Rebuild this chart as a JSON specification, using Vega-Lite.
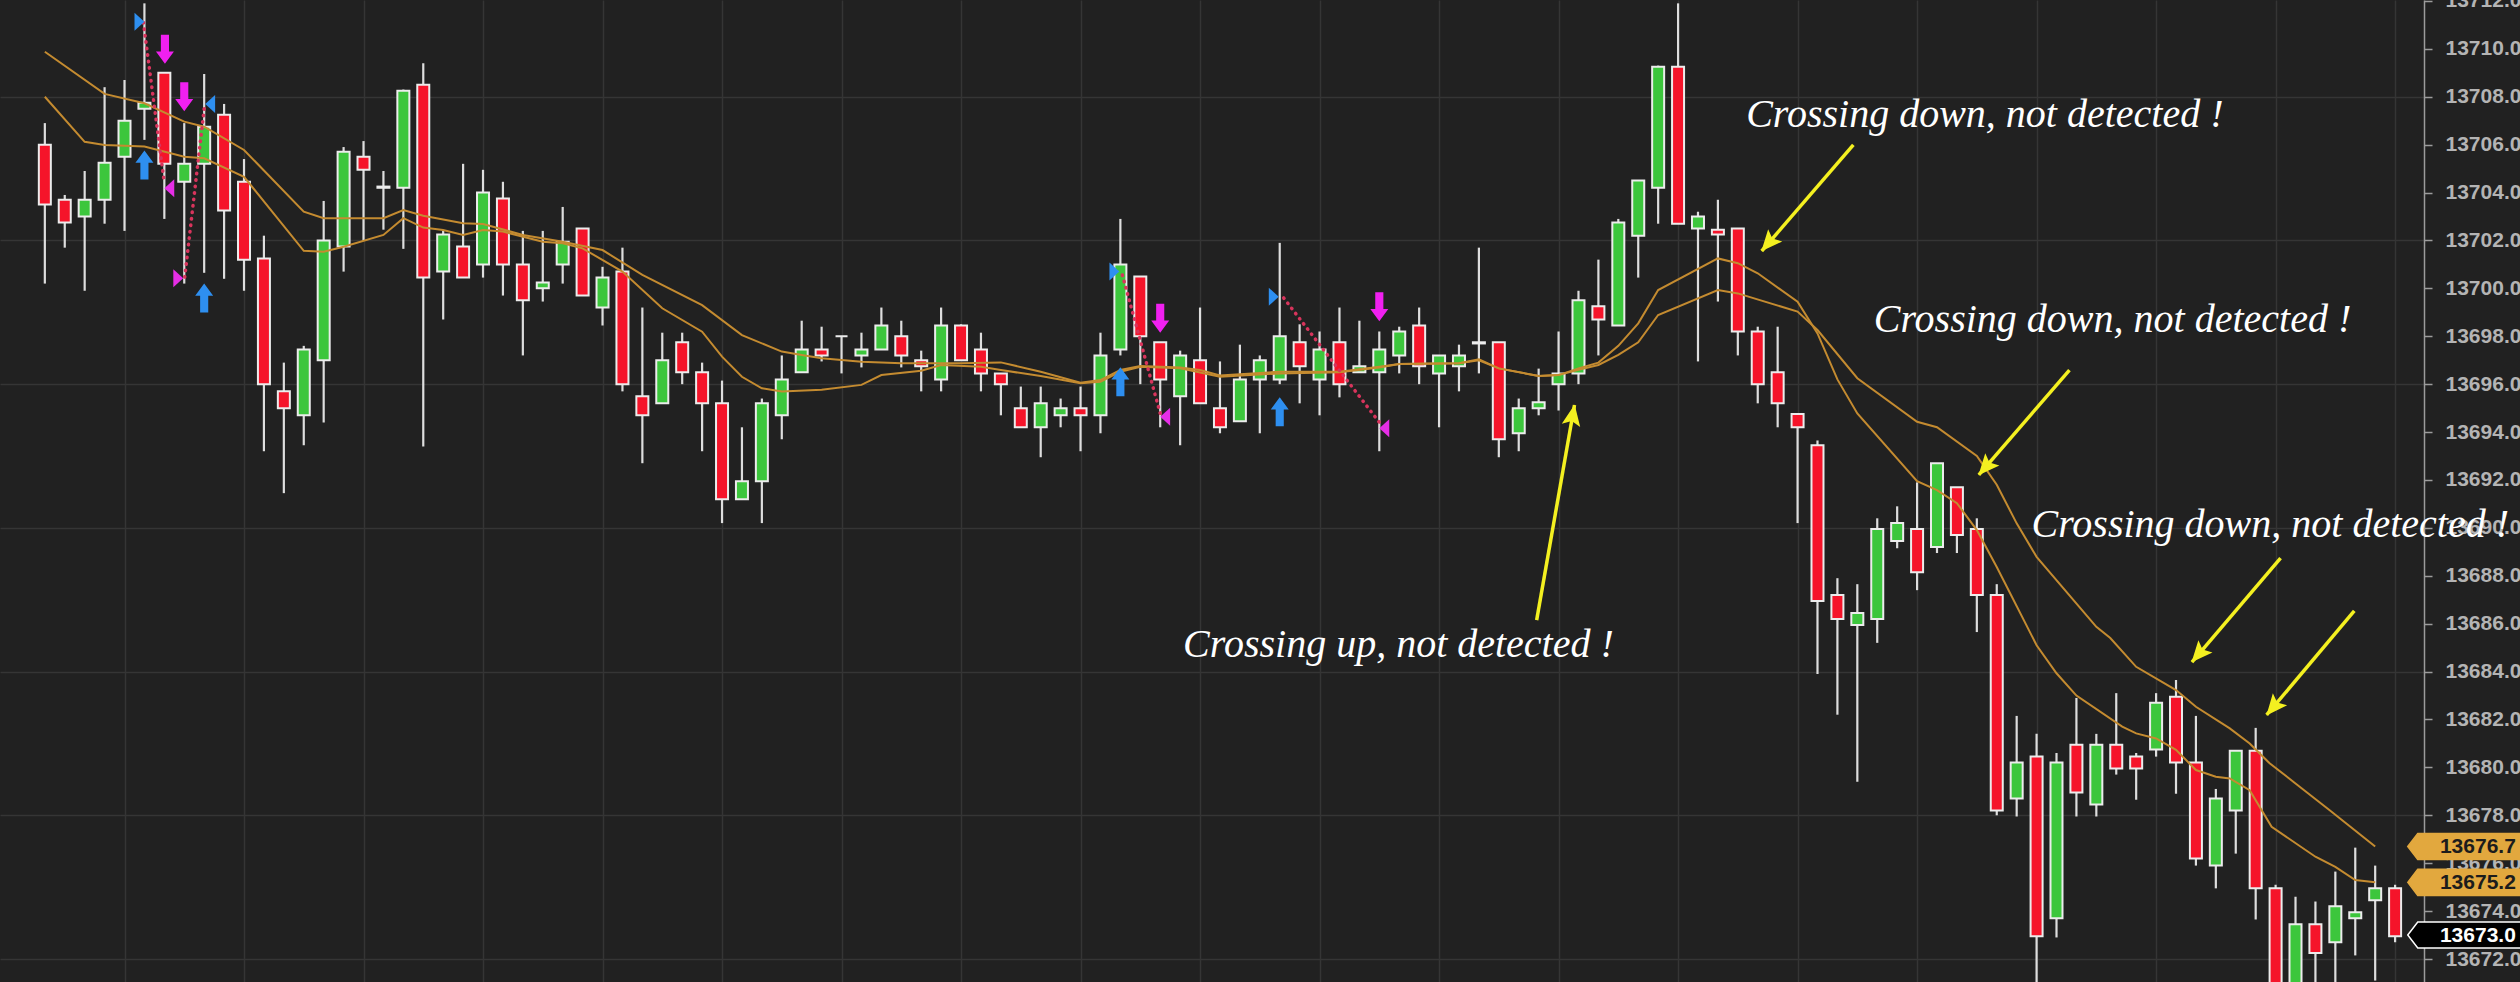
{
  "$schema": "https://vega.github.io/schema/vega-lite/v6.json",
  "width": 2424,
  "height": 982,
  "autosize": {"type": "none"},
  "padding": {"left": 0, "top": 0, "right": 96, "bottom": 0},
  "background": "#212121",
  "config": {"view": {"stroke": null}},
  "datasets": {
    "candles": [
      {"k":2,"o":13706.0,"h":13706.9,"l":13700.2,"c":13703.5},
      {"k":3,"o":13703.7,"h":13703.9,"l":13701.7,"c":13702.75},
      {"k":4,"o":13703.0,"h":13704.9,"l":13699.9,"c":13703.7},
      {"k":5,"o":13703.7,"h":13708.4,"l":13702.7,"c":13705.25},
      {"k":6,"o":13705.5,"h":13708.7,"l":13702.4,"c":13707.0},
      {"k":7,"o":13707.5,"h":13711.9,"l":13706.2,"c":13707.75},
      {"k":8,"o":13709.0,"h":13709.0,"l":13702.9,"c":13705.2},
      {"k":9,"o":13704.45,"h":13706.9,"l":13700.2,"c":13705.2},
      {"k":10,"o":13705.2,"h":13708.95,"l":13700.65,"c":13706.75},
      {"k":11,"o":13707.25,"h":13707.7,"l":13700.4,"c":13703.25},
      {"k":12,"o":13704.45,"h":13705.4,"l":13699.9,"c":13701.2},
      {"k":13,"o":13701.25,"h":13702.2,"l":13693.2,"c":13696.0},
      {"k":14,"o":13695.7,"h":13696.9,"l":13691.45,"c":13695.0},
      {"k":15,"o":13694.7,"h":13697.6,"l":13693.45,"c":13697.45},
      {"k":16,"o":13697.0,"h":13703.65,"l":13694.4,"c":13702.0},
      {"k":17,"o":13701.75,"h":13705.9,"l":13700.7,"c":13705.7},
      {"k":18,"o":13705.5,"h":13706.15,"l":13702.0,"c":13704.95},
      {"k":19,"o":13704.2,"h":13704.9,"l":13702.45,"c":13704.25},
      {"k":20,"o":13704.2,"h":13708.3,"l":13701.65,"c":13708.25},
      {"k":21,"o":13708.5,"h":13709.4,"l":13693.4,"c":13700.45},
      {"k":22,"o":13700.7,"h":13702.4,"l":13698.7,"c":13702.25},
      {"k":23,"o":13701.75,"h":13705.2,"l":13700.45,"c":13700.45},
      {"k":24,"o":13701.0,"h":13704.95,"l":13700.45,"c":13704.0},
      {"k":25,"o":13703.75,"h":13704.45,"l":13699.7,"c":13701.0},
      {"k":26,"o":13701.0,"h":13702.4,"l":13697.2,"c":13699.5},
      {"k":27,"o":13700.0,"h":13702.4,"l":13699.45,"c":13700.25},
      {"k":28,"o":13701.0,"h":13703.4,"l":13700.2,"c":13701.95},
      {"k":29,"o":13702.5,"h":13702.5,"l":13699.7,"c":13699.7},
      {"k":30,"o":13699.2,"h":13700.9,"l":13698.45,"c":13700.45},
      {"k":31,"o":13700.7,"h":13701.7,"l":13695.7,"c":13696.0},
      {"k":32,"o":13695.5,"h":13699.2,"l":13692.7,"c":13694.7},
      {"k":33,"o":13695.2,"h":13698.15,"l":13695.2,"c":13697.0},
      {"k":34,"o":13697.75,"h":13698.15,"l":13696.0,"c":13696.5},
      {"k":35,"o":13696.5,"h":13696.9,"l":13693.2,"c":13695.2},
      {"k":36,"o":13695.2,"h":13696.15,"l":13690.2,"c":13691.2},
      {"k":37,"o":13691.2,"h":13694.2,"l":13691.2,"c":13691.95},
      {"k":38,"o":13691.95,"h":13695.4,"l":13690.2,"c":13695.2},
      {"k":39,"o":13694.7,"h":13697.2,"l":13693.7,"c":13696.2},
      {"k":40,"o":13696.5,"h":13698.65,"l":13696.5,"c":13697.45},
      {"k":41,"o":13697.45,"h":13698.4,"l":13696.95,"c":13697.2},
      {"k":42,"o":13698.0,"h":13698.0,"l":13696.45,"c":13698.0},
      {"k":43,"o":13697.2,"h":13698.15,"l":13696.7,"c":13697.45},
      {"k":44,"o":13697.45,"h":13699.2,"l":13697.45,"c":13698.45},
      {"k":45,"o":13698.0,"h":13698.65,"l":13696.7,"c":13697.2},
      {"k":46,"o":13697.0,"h":13697.4,"l":13695.7,"c":13696.75},
      {"k":47,"o":13696.2,"h":13699.2,"l":13695.7,"c":13698.45},
      {"k":48,"o":13698.45,"h":13698.5,"l":13697.0,"c":13697.0},
      {"k":49,"o":13697.45,"h":13698.15,"l":13695.7,"c":13696.45},
      {"k":50,"o":13696.45,"h":13696.45,"l":13694.7,"c":13696.0},
      {"k":51,"o":13695.0,"h":13695.9,"l":13694.2,"c":13694.2},
      {"k":52,"o":13694.2,"h":13695.9,"l":13692.95,"c":13695.2},
      {"k":53,"o":13694.7,"h":13695.4,"l":13694.2,"c":13695.0},
      {"k":54,"o":13695.0,"h":13695.9,"l":13693.2,"c":13694.7},
      {"k":55,"o":13694.7,"h":13698.15,"l":13693.95,"c":13697.2},
      {"k":56,"o":13697.45,"h":13702.9,"l":13697.2,"c":13701.0},
      {"k":57,"o":13700.5,"h":13700.5,"l":13696.0,"c":13698.0},
      {"k":58,"o":13697.75,"h":13697.75,"l":13694.2,"c":13696.2},
      {"k":59,"o":13695.5,"h":13697.4,"l":13693.45,"c":13697.2},
      {"k":60,"o":13697.0,"h":13699.2,"l":13695.2,"c":13695.2},
      {"k":61,"o":13695.0,"h":13696.95,"l":13693.95,"c":13694.2},
      {"k":62,"o":13694.45,"h":13697.65,"l":13694.45,"c":13696.2},
      {"k":63,"o":13696.2,"h":13697.2,"l":13693.95,"c":13697.0},
      {"k":64,"o":13696.2,"h":13701.9,"l":13696.0,"c":13698.0},
      {"k":65,"o":13697.75,"h":13698.5,"l":13695.2,"c":13696.75},
      {"k":66,"o":13696.2,"h":13698.2,"l":13694.7,"c":13697.45},
      {"k":67,"o":13697.75,"h":13699.2,"l":13695.45,"c":13696.0},
      {"k":68,"o":13696.5,"h":13698.65,"l":13696.5,"c":13696.75},
      {"k":69,"o":13696.5,"h":13698.2,"l":13693.2,"c":13697.45},
      {"k":70,"o":13697.2,"h":13698.4,"l":13696.45,"c":13698.2},
      {"k":71,"o":13698.45,"h":13699.2,"l":13696.0,"c":13696.75},
      {"k":72,"o":13696.45,"h":13697.2,"l":13694.2,"c":13697.2},
      {"k":73,"o":13696.75,"h":13697.65,"l":13695.7,"c":13697.2},
      {"k":74,"o":13697.7,"h":13701.7,"l":13696.45,"c":13697.75},
      {"k":75,"o":13697.75,"h":13697.75,"l":13692.95,"c":13693.7},
      {"k":76,"o":13693.95,"h":13695.4,"l":13693.2,"c":13695.0},
      {"k":77,"o":13695.0,"h":13696.65,"l":13694.7,"c":13695.25},
      {"k":78,"o":13696.0,"h":13698.2,"l":13694.9,"c":13696.45},
      {"k":79,"o":13696.45,"h":13699.9,"l":13696.0,"c":13699.5},
      {"k":80,"o":13699.25,"h":13701.2,"l":13697.2,"c":13698.7},
      {"k":81,"o":13698.45,"h":13702.9,"l":13698.45,"c":13702.75},
      {"k":82,"o":13702.2,"h":13704.5,"l":13700.45,"c":13704.5},
      {"k":83,"o":13704.2,"h":13709.3,"l":13702.7,"c":13709.25},
      {"k":84,"o":13709.25,"h":13711.9,"l":13702.7,"c":13702.7},
      {"k":85,"o":13702.5,"h":13703.2,"l":13696.95,"c":13703.0},
      {"k":86,"o":13702.45,"h":13703.7,"l":13699.45,"c":13702.25},
      {"k":87,"o":13702.5,"h":13702.5,"l":13697.2,"c":13698.2},
      {"k":88,"o":13698.2,"h":13698.4,"l":13695.2,"c":13696.0},
      {"k":89,"o":13696.5,"h":13698.4,"l":13694.2,"c":13695.2},
      {"k":90,"o":13694.75,"h":13694.75,"l":13690.2,"c":13694.2},
      {"k":91,"o":13693.45,"h":13693.65,"l":13683.9,"c":13686.95},
      {"k":92,"o":13687.2,"h":13687.9,"l":13682.2,"c":13686.2},
      {"k":93,"o":13685.95,"h":13687.65,"l":13679.4,"c":13686.45},
      {"k":94,"o":13686.2,"h":13690.4,"l":13685.2,"c":13689.95},
      {"k":95,"o":13689.45,"h":13690.9,"l":13689.15,"c":13690.2},
      {"k":96,"o":13689.95,"h":13691.9,"l":13687.4,"c":13688.15},
      {"k":97,"o":13689.2,"h":13692.7,"l":13688.95,"c":13692.7},
      {"k":98,"o":13691.7,"h":13691.7,"l":13688.95,"c":13689.7},
      {"k":99,"o":13689.95,"h":13690.4,"l":13685.65,"c":13687.2},
      {"k":100,"o":13687.2,"h":13687.65,"l":13678.0,"c":13678.2},
      {"k":101,"o":13678.7,"h":13682.15,"l":13677.95,"c":13680.2},
      {"k":102,"o":13680.45,"h":13681.4,"l":13670.5,"c":13672.95},
      {"k":103,"o":13673.7,"h":13680.6,"l":13672.9,"c":13680.2},
      {"k":104,"o":13680.95,"h":13682.9,"l":13677.95,"c":13678.95},
      {"k":105,"o":13678.45,"h":13681.4,"l":13677.95,"c":13680.95},
      {"k":106,"o":13680.95,"h":13683.1,"l":13679.7,"c":13679.95},
      {"k":107,"o":13680.45,"h":13680.6,"l":13678.65,"c":13679.95},
      {"k":108,"o":13680.75,"h":13683.1,"l":13680.45,"c":13682.7},
      {"k":109,"o":13682.95,"h":13683.65,"l":13678.9,"c":13680.2},
      {"k":110,"o":13680.2,"h":13682.15,"l":13675.9,"c":13676.2},
      {"k":111,"o":13675.9,"h":13679.1,"l":13674.95,"c":13678.7},
      {"k":112,"o":13678.2,"h":13680.7,"l":13676.4,"c":13680.7},
      {"k":113,"o":13680.7,"h":13681.65,"l":13673.65,"c":13674.95},
      {"k":114,"o":13674.95,"h":13675.1,"l":13670.0,"c":13670.5},
      {"k":115,"o":13670.8,"h":13674.6,"l":13670.5,"c":13673.45},
      {"k":116,"o":13673.45,"h":13674.4,"l":13670.8,"c":13672.25},
      {"k":117,"o":13672.7,"h":13675.65,"l":13671.0,"c":13674.2},
      {"k":118,"o":13673.7,"h":13676.65,"l":13672.15,"c":13673.95},
      {"k":119,"o":13674.45,"h":13675.9,"l":13671.1,"c":13674.95},
      {"k":120,"o":13674.95,"h":13675.1,"l":13672.7,"c":13672.95}
    ],
    "ma": [
      {"s":"fast","k":2,"v":13708.0},{"s":"fast","k":4,"v":13706.12},{"s":"fast","k":5,"v":13705.99},{"s":"fast","k":7,"v":13705.92},
      {"s":"fast","k":9,"v":13705.5},{"s":"fast","k":10,"v":13705.43},{"s":"fast","k":12,"v":13704.66},{"s":"fast","k":15,"v":13701.57},
      {"s":"fast","k":16,"v":13701.53},{"s":"fast","k":17,"v":13701.74},{"s":"fast","k":19,"v":13702.23},{"s":"fast","k":20,"v":13702.93},
      {"s":"fast","k":21,"v":13702.54},{"s":"fast","k":22,"v":13702.44},{"s":"fast","k":23,"v":13702.23},{"s":"fast","k":24,"v":13702.44},
      {"s":"fast","k":25,"v":13702.37},{"s":"fast","k":27,"v":13701.95},{"s":"fast","k":28,"v":13701.88},{"s":"fast","k":29,"v":13701.67},
      {"s":"fast","k":31,"v":13700.7},{"s":"fast","k":33,"v":13699.17},{"s":"fast","k":35,"v":13698.19},{"s":"fast","k":36,"v":13697.15},
      {"s":"fast","k":37,"v":13696.31},{"s":"fast","k":38,"v":13695.83},{"s":"fast","k":39,"v":13695.69},{"s":"fast","k":41,"v":13695.77},
      {"s":"fast","k":43,"v":13695.97},{"s":"fast","k":44,"v":13696.38},{"s":"fast","k":46,"v":13696.56},{"s":"fast","k":47,"v":13696.8},
      {"s":"fast","k":49,"v":13696.73},{"s":"fast","k":50,"v":13696.59},{"s":"fast","k":52,"v":13696.34},{"s":"fast","k":54,"v":13696.04},
      {"s":"fast","k":55,"v":13696.1},{"s":"fast","k":56,"v":13696.52},{"s":"fast","k":57,"v":13696.73},{"s":"fast","k":59,"v":13696.66},
      {"s":"fast","k":61,"v":13696.31},{"s":"fast","k":64,"v":13696.45},{"s":"fast","k":67,"v":13696.5},{"s":"fast","k":69,"v":13696.7},
      {"s":"fast","k":70,"v":13696.84},{"s":"fast","k":73,"v":13696.87},{"s":"fast","k":74,"v":13697.04},{"s":"fast","k":75,"v":13696.66},
      {"s":"fast","k":77,"v":13696.34},{"s":"fast","k":78,"v":13696.38},{"s":"fast","k":79,"v":13696.66},{"s":"fast","k":80,"v":13696.9},
      {"s":"fast","k":81,"v":13697.6},{"s":"fast","k":82,"v":13698.54},{"s":"fast","k":83,"v":13699.93},{"s":"fast","k":86,"v":13701.25},
      {"s":"fast","k":87,"v":13701.05},{"s":"fast","k":88,"v":13700.63},{"s":"fast","k":90,"v":13699.44},{"s":"fast","k":91,"v":13698.12},
      {"s":"fast","k":92,"v":13696.2},{"s":"fast","k":93,"v":13694.78},{"s":"fast","k":96,"v":13691.95},{"s":"fast","k":97,"v":13691.58},
      {"s":"fast","k":98,"v":13691.03},{"s":"fast","k":99,"v":13689.91},{"s":"fast","k":100,"v":13688.37},{"s":"fast","k":102,"v":13685.1},
      {"s":"fast","k":103,"v":13683.93},{"s":"fast","k":104,"v":13683.0},{"s":"fast","k":106.3,"v":13681.7},{"s":"fast","k":107,"v":13681.42},
      {"s":"fast","k":108,"v":13681.21},{"s":"fast","k":109,"v":13680.73},{"s":"fast","k":110,"v":13679.89},{"s":"fast","k":111,"v":13679.61},
      {"s":"fast","k":111.7,"v":13679.54},{"s":"fast","k":112.7,"v":13679.05},{"s":"fast","k":113.8,"v":13677.52},{"s":"fast","k":116,"v":13676.27},
      {"s":"fast","k":117,"v":13675.85},{"s":"fast","k":118,"v":13675.3},{"s":"fast","k":119,"v":13675.2},
      {"s":"slow","k":2,"v":13709.88},{"s":"slow","k":5,"v":13708.12},{"s":"slow","k":7,"v":13707.73},{"s":"slow","k":9,"v":13706.96},
      {"s":"slow","k":10,"v":13706.75},{"s":"slow","k":12,"v":13705.78},{"s":"slow","k":15,"v":13703.2},{"s":"slow","k":16,"v":13702.93},
      {"s":"slow","k":19,"v":13702.93},{"s":"slow","k":20,"v":13703.27},{"s":"slow","k":21,"v":13703.03},{"s":"slow","k":23,"v":13702.72},
      {"s":"slow","k":24,"v":13702.69},{"s":"slow","k":26,"v":13702.23},{"s":"slow","k":28,"v":13701.95},{"s":"slow","k":30,"v":13701.6},
      {"s":"slow","k":32,"v":13700.56},{"s":"slow","k":35,"v":13699.3},{"s":"slow","k":37,"v":13698.05},{"s":"slow","k":39,"v":13697.36},
      {"s":"slow","k":40,"v":13697.22},{"s":"slow","k":41,"v":13697.08},{"s":"slow","k":43,"v":13696.94},{"s":"slow","k":45,"v":13696.87},
      {"s":"slow","k":48,"v":13696.87},{"s":"slow","k":50,"v":13696.91},{"s":"slow","k":52,"v":13696.52},{"s":"slow","k":54,"v":13696.06},
      {"s":"slow","k":55,"v":13696.17},{"s":"slow","k":56,"v":13696.59},{"s":"slow","k":57,"v":13696.76},{"s":"slow","k":59,"v":13696.7},
      {"s":"slow","k":60,"v":13696.59},{"s":"slow","k":61,"v":13696.36},{"s":"slow","k":64,"v":13696.52},{"s":"slow","k":67,"v":13696.52},
      {"s":"slow","k":69,"v":13696.73},{"s":"slow","k":70,"v":13696.84},{"s":"slow","k":73,"v":13696.87},{"s":"slow","k":74,"v":13697.0},
      {"s":"slow","k":75,"v":13696.66},{"s":"slow","k":77,"v":13696.34},{"s":"slow","k":78,"v":13696.38},{"s":"slow","k":79,"v":13696.6},
      {"s":"slow","k":80,"v":13696.8},{"s":"slow","k":81,"v":13697.22},{"s":"slow","k":82,"v":13697.75},{"s":"slow","k":83,"v":13698.89},
      {"s":"slow","k":86,"v":13699.93},{"s":"slow","k":87,"v":13699.79},{"s":"slow","k":90,"v":13699.03},{"s":"slow","k":91,"v":13698.26},
      {"s":"slow","k":93,"v":13696.25},{"s":"slow","k":96,"v":13694.43},{"s":"slow","k":97,"v":13694.2},{"s":"slow","k":99,"v":13693.0},
      {"s":"slow","k":100,"v":13691.8},{"s":"slow","k":101,"v":13690.19},{"s":"slow","k":102,"v":13688.79},{"s":"slow","k":105,"v":13685.87},
      {"s":"slow","k":105.7,"v":13685.4},{"s":"slow","k":107,"v":13684.2},{"s":"slow","k":109,"v":13683.23},{"s":"slow","k":110,"v":13682.53},
      {"s":"slow","k":111.7,"v":13681.63},{"s":"slow","k":112.7,"v":13681.0},{"s":"slow","k":113.7,"v":13680.17},{"s":"slow","k":115,"v":13679.33},
      {"s":"slow","k":116.7,"v":13678.22},{"s":"slow","k":119,"v":13676.7}
    ],
    "sig": [
      {"k":8.03,"v":13709.98,"t":"sell"},{"k":9,"v":13708.0,"t":"sell"},{"k":7,"v":13705.15,"t":"buy"},{"k":10,"v":13699.6,"t":"buy"},
      {"k":58,"v":13698.75,"t":"sell"},{"k":56,"v":13696.1,"t":"buy"},
      {"k":69,"v":13699.23,"t":"sell"},{"k":64,"v":13694.85,"t":"buy"}
    ],
    "tri": [
      {"k":6.75,"v":13711.13,"t":"startR"},{"k":8.25,"v":13704.18,"t":"endL"},{"k":10.3,"v":13707.7,"t":"startL"},{"k":8.7,"v":13700.42,"t":"endR"},
      {"k":55.7,"v":13700.7,"t":"startR"},{"k":58.25,"v":13694.64,"t":"endL"},
      {"k":63.7,"v":13699.65,"t":"startR"},{"k":69.25,"v":13694.16,"t":"endL"}
    ],
    "dots": [
      {"k":6.95,"v":13711.1,"k2":8.0,"v2":13704.4},
      {"k":10.0,"v":13707.5,"k2":9.0,"v2":13700.3},
      {"k":56.1,"v":13700.56,"k2":58.0,"v2":13694.78},
      {"k":64.2,"v":13699.6,"k2":69.1,"v2":13694.3}
    ],
    "ylines": [
      {"k":92.8,"v":13705.99,"k2":88.2,"v2":13701.56},
      {"k":103.65,"v":13696.59,"k2":99.1,"v2":13692.21},
      {"k":114.25,"v":13688.74,"k2":109.8,"v2":13684.4},
      {"k":117.95,"v":13686.53,"k2":113.55,"v2":13682.19},
      {"k":76.9,"v":13686.15,"k2":78.8,"v2":13695.13}
    ],
    "yheads": [
      {"k":88.59,"v":13701.94,"rot":221},
      {"k":99.49,"v":13692.59,"rot":221},
      {"k":110.19,"v":13684.78,"rot":221},
      {"k":113.94,"v":13682.57,"rot":220},
      {"k":78.7,"v":13694.64,"rot":10}
    ],
    "notes": [
      {"k":87.42,"v":13706.74,"text":"Crossing down, not detected !"},
      {"k":93.83,"v":13698.19,"text":"Crossing down, not detected !"},
      {"k":101.75,"v":13689.62,"text":"Crossing down, not detected !"},
      {"k":59.15,"v":13684.61,"text":"Crossing up, not detected !"}
    ],
    "tags": [
      {"v":13676.7,"label":"13676.7","t":"slow"},
      {"v":13675.2,"label":"13675.2","t":"fast"},
      {"v":13673.0,"label":"13673.0","t":"last"}
    ]
  },
  "layer": [
    {
      "data": {"name": "candles"},
      "mark": {"type": "rule", "color": "#dedede", "strokeWidth": 2.2, "clip": true},
      "encoding": {
        "x": {"field": "k", "type": "quantitative", "scale": {"domain": [0, 121.2], "nice": false, "zero": false},
              "axis": {"values": [6,12,18,24,30,36,42,48,54,60,66,72,78,84,90,96,102,108,114,120], "grid": true, "gridColor": "#353535", "gridWidth": 1.5, "labels": false, "ticks": false, "domain": false, "title": null}},
        "y": {"field": "l", "type": "quantitative", "scale": {"domain": [13671.04, 13712.04], "nice": false, "zero": false},
              "axis": {"orient": "right", "values": [13672,13674,13676,13678,13680,13682,13684,13686,13688,13690,13692,13694,13696,13698,13700,13702,13704,13706,13708,13710,13712],
                       "format": ".1f", "grid": false, "title": null, "domainColor": "#9c9c9c", "domainWidth": 1.5, "tickColor": "#9c9c9c", "tickWidth": 1.5, "tickSize": 8,
                       "labelColor": "#b4b4b4", "labelFont": "Liberation Sans", "labelFontSize": 21, "labelFontWeight": "bold", "labelPadding": 13, "labelOverlap": false}},
        "y2": {"field": "h"}
      }
    },
    {
      "data": {"name": "candles"},
      "mark": {"type": "bar", "width": 12, "stroke": "#ececec", "strokeWidth": 2, "clip": true},
      "encoding": {
        "x": {"field": "k", "type": "quantitative", "scale": {"domain": [0, 121.2], "nice": false, "zero": false}, "axis": null},
        "y": {"field": "o", "type": "quantitative", "scale": {"domain": [13671.04, 13712.04], "nice": false, "zero": false}, "axis": null},
        "y2": {"field": "c"},
        "fill": {"condition": {"test": "datum.c >= datum.o", "value": "#3cc63c"}, "value": "#f5142a"}
      }
    },
    {
      "data": {"name": "ma"},
      "mark": {"type": "line", "color": "#c48b30", "strokeWidth": 2, "clip": true},
      "encoding": {
        "x": {"field": "k", "type": "quantitative", "scale": {"domain": [0, 121.2], "nice": false, "zero": false}, "axis": null},
        "y": {"field": "v", "type": "quantitative", "scale": {"domain": [13671.04, 13712.04], "nice": false, "zero": false},
              "axis": {"orient": "left", "values": [13672,13678,13684,13690,13696,13702,13708], "grid": true, "gridColor": "#353535", "gridWidth": 1.5, "labels": false, "ticks": false, "domain": false, "title": null}},
        "detail": {"field": "s"}
      }
    },
    {
      "data": {"name": "dots"},
      "mark": {"type": "rule", "color": "#d8345c", "strokeWidth": 3.5, "strokeDash": [0.5, 6], "strokeCap": "round"},
      "encoding": {
        "x": {"field": "k", "type": "quantitative", "scale": {"domain": [0, 121.2], "nice": false, "zero": false}, "axis": null},
        "y": {"field": "v", "type": "quantitative", "scale": {"domain": [13671.04, 13712.04], "nice": false, "zero": false}, "axis": null},
        "x2": {"field": "k2"},
        "y2": {"field": "v2"}
      }
    },
    {
      "data": {"name": "tri"},
      "mark": {"type": "point", "filled": true, "opacity": 1, "size": 324},
      "encoding": {
        "x": {"field": "k", "type": "quantitative", "scale": {"domain": [0, 121.2], "nice": false, "zero": false}, "axis": null},
        "y": {"field": "v", "type": "quantitative", "scale": {"domain": [13671.04, 13712.04], "nice": false, "zero": false}, "axis": null},
        "shape": {"field": "t", "type": "nominal", "legend": null,
                  "scale": {"domain": ["startR", "startL", "endL", "endR"], "range": ["M-0.55,-1L0.55,0L-0.55,1Z", "M0.55,-1L-0.55,0L0.55,1Z", "M0.55,-1L-0.55,0L0.55,1Z", "M-0.55,-1L0.55,0L-0.55,1Z"]}},
        "color": {"field": "t", "type": "nominal", "legend": null,
                  "scale": {"domain": ["startR", "startL", "endL", "endR"], "range": ["#2e8ff0", "#2e8ff0", "#e62ee6", "#e62ee6"]}}
      }
    },
    {
      "data": {"name": "sig"},
      "mark": {"type": "point", "filled": true, "opacity": 1, "size": 841},
      "encoding": {
        "x": {"field": "k", "type": "quantitative", "scale": {"domain": [0, 121.2], "nice": false, "zero": false}, "axis": null},
        "y": {"field": "v", "type": "quantitative", "scale": {"domain": [13671.04, 13712.04], "nice": false, "zero": false}, "axis": null},
        "shape": {"field": "t", "type": "nominal", "legend": null,
                  "scale": {"domain": ["sell", "buy"], "range": ["M-0.28,-1L0.28,-1L0.28,0.15L0.62,0.15L0,1L-0.62,0.15L-0.28,0.15Z", "M-0.28,1L0.28,1L0.28,-0.15L0.62,-0.15L0,-1L-0.62,-0.15L-0.28,-0.15Z"]}},
        "color": {"field": "t", "type": "nominal", "legend": null,
                  "scale": {"domain": ["sell", "buy"], "range": ["#f020f0", "#2e8ff0"]}}
      }
    },
    {
      "data": {"name": "ylines"},
      "mark": {"type": "rule", "color": "#f4f020", "strokeWidth": 3.5},
      "encoding": {
        "x": {"field": "k", "type": "quantitative", "scale": {"domain": [0, 121.2], "nice": false, "zero": false}, "axis": null},
        "y": {"field": "v", "type": "quantitative", "scale": {"domain": [13671.04, 13712.04], "nice": false, "zero": false}, "axis": null},
        "x2": {"field": "k2"},
        "y2": {"field": "v2"}
      }
    },
    {
      "data": {"name": "yheads"},
      "mark": {"type": "point", "filled": true, "opacity": 1, "size": 620, "color": "#f4f020", "shape": "M0,-1L0.75,0.7L0,0.35L-0.75,0.7Z"},
      "encoding": {
        "x": {"field": "k", "type": "quantitative", "scale": {"domain": [0, 121.2], "nice": false, "zero": false}, "axis": null},
        "y": {"field": "v", "type": "quantitative", "scale": {"domain": [13671.04, 13712.04], "nice": false, "zero": false}, "axis": null},
        "angle": {"field": "rot", "type": "quantitative", "scale": null}
      }
    },
    {
      "data": {"name": "notes"},
      "mark": {"type": "text", "font": "Liberation Serif", "fontStyle": "italic", "fontSize": 40, "color": "#ffffff", "align": "left", "baseline": "alphabetic"},
      "encoding": {
        "x": {"field": "k", "type": "quantitative", "scale": {"domain": [0, 121.2], "nice": false, "zero": false}, "axis": null},
        "y": {"field": "v", "type": "quantitative", "scale": {"domain": [13671.04, 13712.04], "nice": false, "zero": false}, "axis": null},
        "text": {"field": "text"}
      }
    },
    {
      "data": {"name": "tags"},
      "mark": {"type": "point", "filled": true, "opacity": 1, "size": 19600, "strokeWidth": 1.5, "shape": "M-1,0L-0.857,-0.186L1,-0.186L1,0.186L-0.857,0.186Z"},
      "encoding": {
        "x": {"datum": 124.15, "type": "quantitative", "scale": {"domain": [0, 121.2], "nice": false, "zero": false}, "axis": null},
        "y": {"field": "v", "type": "quantitative", "scale": {"domain": [13671.04, 13712.04], "nice": false, "zero": false}, "axis": null},
        "fill": {"field": "t", "type": "nominal", "legend": null, "scale": {"domain": ["slow", "fast", "last"], "range": ["#e2a83e", "#e2a83e", "#000000"]}},
        "stroke": {"field": "t", "type": "nominal", "legend": null, "scale": {"domain": ["slow", "fast", "last"], "range": ["#e2a83e", "#e2a83e", "#ffffff"]}}
      }
    },
    {
      "data": {"name": "tags"},
      "mark": {"type": "text", "font": "Liberation Sans", "fontSize": 21, "fontWeight": "bold", "align": "left", "baseline": "middle", "dy": 1},
      "encoding": {
        "x": {"datum": 122.25, "type": "quantitative", "scale": {"domain": [0, 121.2], "nice": false, "zero": false}, "axis": null},
        "y": {"field": "v", "type": "quantitative", "scale": {"domain": [13671.04, 13712.04], "nice": false, "zero": false}, "axis": null},
        "text": {"field": "label"},
        "color": {"field": "t", "type": "nominal", "legend": null, "scale": {"domain": ["slow", "fast", "last"], "range": ["#1c1c1c", "#1c1c1c", "#ffffff"]}}
      }
    }
  ],
  "resolve": {
    "axis": {"y": "independent", "x": "independent"},
    "scale": {"color": "independent", "shape": "independent", "fill": "independent", "stroke": "independent"}
  }
}
